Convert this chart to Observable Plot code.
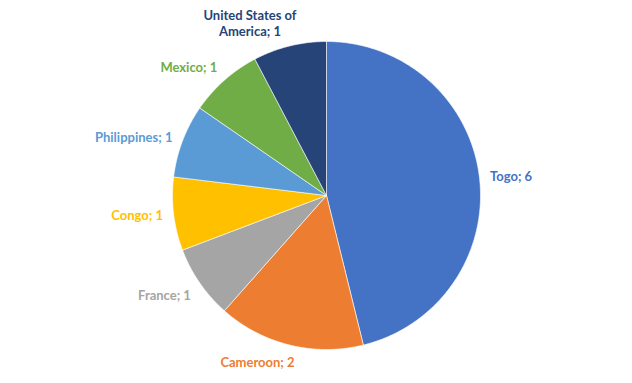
<!DOCTYPE html>
<html>
<head>
<meta charset="utf-8">
<script src="https://cdn.jsdelivr.net/npm/d3@7"></script>
<script src="https://cdn.jsdelivr.net/npm/@observablehq/plot@0.6"></script>
<style>
  html, body { margin: 0; padding: 0; background: #fff; }
  #chart svg { display: block; }
</style>
</head>
<body>
<div id="chart"></div>
<script>
// ---- data ----
const countries = ["Togo", "Cameroon", "France", "Congo", "Philippines", "Mexico", "United States of America"];
const counts = [6, 2, 1, 1, 1, 1, 1];
const labels = ["Togo; 6", "Cameroon; 2", "France; 1", "Congo; 1", "Philippines; 1", "Mexico; 1", "United States of\nAmerica; 1"];
const colors = ["#4472C4", "#ED7D31", "#A5A5A5", "#FFC000", "#5B9BD5", "#70AD47", "#264478"];

// ---- layout ----
const W = 632, H = 383;
const cx = 326, cy = 195, R = 154; // pixel center & radius
const labelR = 1.07;               // label radius in units of R
const FONT = "Lato, 'Open Sans', sans-serif";
const FS = 13;

const ctx = document.createElement("canvas").getContext("2d");
ctx.font = `bold ${FS}px ${FONT}`;
const textW = s => Math.max(...s.split("\n").map(l => ctx.measureText(l).width));

const rows = countries.map((c, i) => ({country: c, value: counts[i], label: labels[i]}));
const arcs = d3.pie().sort(null).value(d => d.value)(rows);

// wedge outlines (unit circle, y downward)
const wedgePts = [];
arcs.forEach(a => {
  const n = Math.max(8, Math.ceil((a.endAngle - a.startAngle) / 0.01));
  wedgePts.push({country: a.data.country, x: 0, y: 0});
  for (let k = 0; k <= n; k++) {
    const t = a.startAngle + (a.endAngle - a.startAngle) * k / n;
    wedgePts.push({country: a.data.country, x: Math.sin(t), y: -Math.cos(t)});
  }
  wedgePts.push({country: a.data.country, x: 0, y: 0});
});

// labels: box placed beside the radial point, text centred in its box
const labelPts = arcs.map(a => {
  const m = (a.startAngle + a.endAngle) / 2;
  const s = Math.sin(m), c = Math.cos(m);
  const halfW = textW(a.data.label) / 2 / R;
  const shift = Math.sign(s) * Math.min(1, Math.abs(s) / 0.3);
  return {
    country: a.data.country,
    label: a.data.label,
    x: labelR * s + shift * halfW,
    y: -labelR * c,
    line: c > 0.5 ? "bottom" : (c < -0.5 ? "top" : "middle")
  };
});

const groups = d3.groups(labelPts, d => d.line);

const plot = Plot.plot({
  width: W,
  height: H,
  margin: 0,
  x: {domain: [-cx / R, (W - cx) / R], range: [0, W], axis: null},
  y: {domain: [-cy / R, (H - cy) / R], range: [0, H], axis: null},
  color: {domain: countries, range: colors},
  style: {fontFamily: FONT},
  marks: [
    Plot.line(wedgePts, {x: "x", y: "y", z: "country", fill: "country", stroke: "white", strokeWidth: 0.6, curve: "linear"}),
    ...groups.map(([la, pts]) => Plot.text(pts, {
      x: "x", y: "y", text: "label", fill: "country",
      textAnchor: "middle", lineAnchor: la,
      fontSize: FS, fontWeight: "bold", lineHeight: 1.2
    }))
  ]
});
document.getElementById("chart").appendChild(plot);
</script>
</body>
</html>
